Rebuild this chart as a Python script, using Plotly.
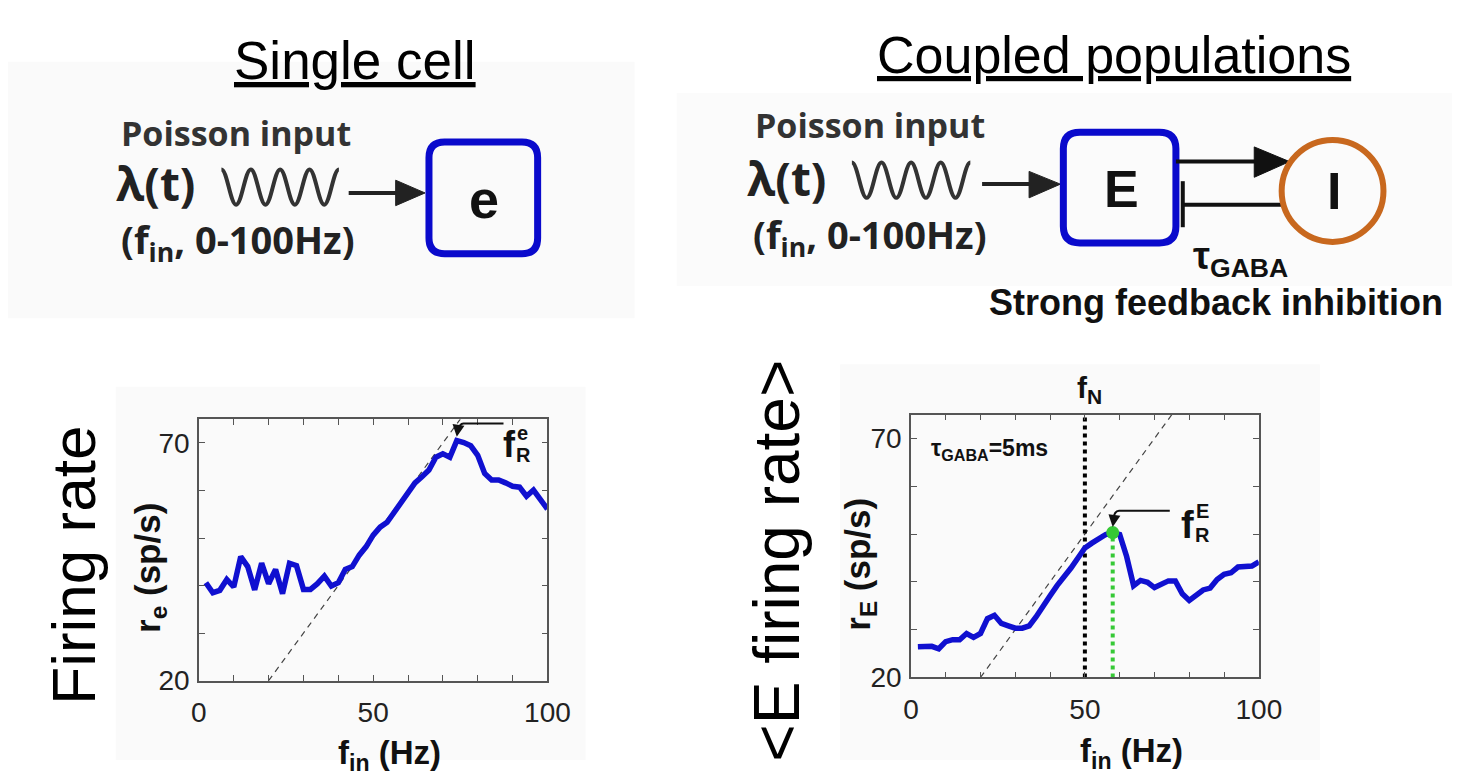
import plotly.graph_objects as go

W, H = 1475, 776

# Single excitatory cell: input frequency (Hz) vs. firing rate (sp/s)
fin_single = [2, 4, 6, 8, 10, 12, 14, 16, 18, 20, 22, 24, 26, 28, 30, 32, 34, 36, 38, 40,
              42, 44, 46, 48, 50, 52, 54, 56, 58, 60, 62, 64, 66, 68, 70, 72, 74, 76, 78, 80,
              82, 84, 86, 88, 90, 92, 94, 96, 98, 100]
rate_single = [40.6, 38.5, 39.0, 41.3, 39.7, 46.1, 44.0, 39.1, 44.7, 40.4,
               43.4, 38.3, 44.7, 44.2, 39.2, 39.2, 40.4, 42.0, 39.9, 40.6,
               43.4, 44.0, 46.4, 48.2, 50.6, 52.3, 53.3, 55.4, 57.8, 59.5,
               61.6, 62.9, 64.3, 67.0, 67.7, 67.0, 70.5, 70.1, 69.4, 67.4,
               63.6, 62.2, 62.2, 61.6, 60.9, 60.7, 58.8, 60.1, 58.1, 56.1]

# Coupled E-I populations: input frequency (Hz) vs. mean E firing rate (sp/s)
fin_coupled = fin_single
rate_coupled = [26.4, 26.4, 26.5, 26.0, 27.5, 27.9, 27.9, 29.2, 28.4, 29.2,
                32.3, 33.0, 31.3, 30.8, 30.3, 30.3, 30.8, 32.7, 34.7, 37.1,
                39.2, 40.9, 42.9, 45.0, 47.1, 48.1, 49.0, 49.9, 50.3, 49.9,
                45.3, 39.2, 40.3, 39.9, 38.8, 39.4, 40.2, 40.2, 37.5, 36.1,
                37.1, 38.3, 38.7, 40.5, 41.6, 41.9, 43.1, 43.1, 43.3, 44.2]

# Identity line (output rate = input frequency)
diag_x = [20, 75]
diag_y = [20, 75]

f_N = 50  # natural frequency of the E-I loop (Hz)

x_tickvals = [0, 10, 20, 30, 40, 50, 60, 70, 80, 90, 100]
x_ticktext = ["0", "", "", "", "", "50", "", "", "", "", "100"]
y_tickvals = [20, 30, 40, 50, 60, 70]
y_ticktext = ["20", "", "", "", "", "70"]

# resonance peak of the coupled network
i_pk = max(range(len(rate_coupled)), key=lambda i: rate_coupled[i])
pk_x, pk_y = fin_coupled[i_pk], rate_coupled[i_pk]

BLUE = "#1010d0"
BOXBLUE = "#0a0acc"
ORANGE = "#c8681e"
GREEN = "#36c936"
ARIAL = "Liberation Sans, Arial, sans-serif"
DIAG = "Open Sans, Liberation Sans, sans-serif"


def px(x):
    return x / W


def py(y):
    return 1 - y / H


def pt(x, y):
    return f"{px(x):.5f},{py(y):.5f}"


fig = go.Figure()

# ---- curves ----
for xa, ya in (("x", "y"), ("x2", "y2")):
    fig.add_trace(go.Scatter(x=diag_x, y=diag_y, mode="lines", xaxis=xa, yaxis=ya,
                             line=dict(color="#444", width=1.2, dash="6px,5px"),
                             hoverinfo="skip"))

fig.add_trace(go.Scatter(x=[f_N, f_N], y=[20, 75], mode="lines", xaxis="x2", yaxis="y2",
                         line=dict(color="black", width=4, dash="dot"), hoverinfo="skip"))
fig.add_trace(go.Scatter(x=[pk_x, pk_x], y=[20, pk_y], mode="lines", xaxis="x2", yaxis="y2",
                         line=dict(color=GREEN, width=4, dash="dot"), hoverinfo="skip"))

fig.add_trace(go.Scatter(x=fin_single, y=rate_single, mode="lines", xaxis="x", yaxis="y",
                         line=dict(color=BLUE, width=5.5)))
fig.add_trace(go.Scatter(x=fin_coupled, y=rate_coupled, mode="lines", xaxis="x2", yaxis="y2",
                         line=dict(color=BLUE, width=5.5)))
fig.add_trace(go.Scatter(x=[pk_x], y=[pk_y], mode="markers", xaxis="x2", yaxis="y2",
                         marker=dict(color=GREEN, size=13)))

shapes = []
annotations = []


def txt(text, x, y, size, family=ARIAL, color="#111", angle=0,
        xanchor="center", yanchor="middle", xref="paper", yref="paper"):
    if xref == "paper":
        x = px(x)
    if yref == "paper":
        y = py(y)
    annotations.append(dict(text=text, x=x, y=y, xref=xref, yref=yref, showarrow=False,
                            textangle=angle, xanchor=xanchor, yanchor=yanchor,
                            font=dict(size=size, family=family, color=color)))


def rect_px(x0, y0, x1, y1, fill):
    shapes.append(dict(type="rect", xref="paper", yref="paper", x0=px(x0), x1=px(x1),
                       y0=py(y1), y1=py(y0), fillcolor=fill, line=dict(width=0),
                       layer="below"))


def line_px(x0, y0, x1, y1, width=4, color="#222"):
    shapes.append(dict(type="line", xref="paper", yref="paper", x0=px(x0), y0=py(y0),
                       x1=px(x1), y1=py(y1), line=dict(color=color, width=width)))


def tri_px(tip, b1, b2, color="#222"):
    shapes.append(dict(type="path", xref="paper", yref="paper",
                       path=f"M{pt(*tip)} L{pt(*b1)} L{pt(*b2)} Z",
                       fillcolor=color, line=dict(color=color, width=1)))


def rounded_box(x0, y0, x1, y1, r, color, width):
    p = (f"M{pt(x0 + r, y0)} L{pt(x1 - r, y0)} Q{pt(x1, y0)} {pt(x1, y0 + r)} "
         f"L{pt(x1, y1 - r)} Q{pt(x1, y1)} {pt(x1 - r, y1)} L{pt(x0 + r, y1)} "
         f"Q{pt(x0, y1)} {pt(x0, y1 - r)} L{pt(x0, y0 + r)} Q{pt(x0, y0)} {pt(x0 + r, y0)} Z")
    shapes.append(dict(type="path", xref="paper", yref="paper", path=p,
                       line=dict(color=color, width=width)))


def wave_px(x0, x1, yc, amp, periods, color="#333", width=4):
    h = (x1 - x0) / (2 * periods)
    k = 0.38 * h
    y_top, y_bot = yc - amp, yc + amp
    p = f"M{pt(x0, y_top)}"
    for i in range(2 * periods):
        xa, xb = x0 + i * h, x0 + (i + 1) * h
        ya, yb = (y_top, y_bot) if i % 2 == 0 else (y_bot, y_top)
        p += f" C{pt(xa + k, ya)} {pt(xb - k, yb)} {pt(xb, yb)}"
    shapes.append(dict(type="path", xref="paper", yref="paper", path=p,
                       line=dict(color=color, width=width)))


# ---- faint panel backgrounds ----
rect_px(0, 63, 640, 325, "#fafafa")
rect_px(683, 95, 1475, 292, "#fbfbfb")
rect_px(110, 395, 590, 776, "#fafafa")
rect_px(850, 372, 1340, 776, "#fafafa")

# ---- titles ----
txt("<u>Single cell</u>", 354, 62, 53, color="black")
txt("<u>Coupled populations</u>", 1130, 56, 52, color="black")

# ---- single-cell diagram ----
txt("<b>Poisson input</b>", 233, 136, 34, family=DIAG, color="#333")
txt("<b>λ(t)</b>", 151, 187, 46, family=DIAG, color="#222")
txt("<b>(f<sub>in</sub>, 0-100Hz)</b>", 235, 247, 38, family=DIAG, color="#222")
wave_px(218, 338, 191, 18, 4)
line_px(348, 197, 400, 197)
tri_px((426, 197), (396, 184), (396, 210))
rounded_box(430, 145, 541, 259, 16, BOXBLUE, 7)
txt("<b>e</b>", 486, 203, 54, color="#111")

# ---- coupled-populations diagram ----
txt("<b>Poisson input</b>", 880, 128, 34, family=DIAG, color="#333")
txt("<b>λ(t)</b>", 795, 182, 46, family=DIAG, color="#222")
txt("<b>(f<sub>in</sub>, 0-100Hz)</b>", 880, 241, 38, family=DIAG, color="#222")
wave_px(862, 983, 184, 18, 4)
line_px(995, 188, 1047, 188)
tri_px((1075, 188), (1043, 175), (1043, 202))
rounded_box(1078, 135, 1193, 248, 17, BOXBLUE, 7)
txt("<b>E</b>", 1137, 193, 52, color="#111")
# excitatory projection E -> I
line_px(1193, 165, 1276, 165, width=4, color="#111")
tri_px((1309, 165), (1273, 150), (1273, 181), color="#111")
# inhibitory feedback I -| E
line_px(1200, 209, 1303, 209, width=4, color="#111")
line_px(1200, 185, 1200, 232, width=4, color="#111")
shapes.append(dict(type="circle", xref="paper", yref="paper", x0=px(1301), x1=px(1405),
                   y0=py(247), y1=py(143), line=dict(color=ORANGE, width=6)))
txt("<b>I</b>", 1354, 195, 52, color="#111")
txt("<b>τ<sub>GABA</sub></b>", 1208, 264, 38, color="#111", xanchor="left")
txt("<b>Strong feedback inhibition</b>", 1234, 309, 36, color="#111")

# ---- big side labels ----
txt("Firing rate", 66, 577, 62, color="black", angle=-90)
txt("&lt;E firing rate&gt;", 786, 572, 64, color="black", angle=-90)

# ---- axis titles ----
txt("<b>r<sub>e</sub> (sp/s)</b>", 145, 580, 35, angle=-90)
txt("<b>r<sub>E</sub> (sp/s)</b>", 870, 576, 35, angle=-90)
txt("<b>f<sub>in</sub> (Hz)</b>", 390, 771, 33)
txt("<b>f<sub>in</sub> (Hz)</b>", 1148, 769, 33)

# ---- in-plot labels, left ----
shapes.append(dict(type="path", xref="x", yref="y",
                   path="M 87.4,74.1 L 75.9,74.1 Q 74.7,74.1 74.3,72.4",
                   line=dict(color="#111", width=2)))
annotations.append(dict(x=74.0, y=71.3, xref="x", yref="y", text="", showarrow=True,
                        ax=1, ay=-7, arrowhead=2, arrowsize=1.2, arrowwidth=2,
                        arrowcolor="#111", standoff=0))
txt("<b>f</b>", 89.0, 69.6, 36, xref="x", yref="y")
txt("<b>e</b>", 92.9, 72.0, 20, xref="x", yref="y")
txt("<b>R</b>", 93.1, 67.4, 20, xref="x", yref="y")

# ---- in-plot labels, right ----
txt("<b>f<sub>N</sub></b>", f_N + 1.4, 398, 30, xref="x2", yref="paper")
txt("<b>τ<sub>GABA</sub>=5ms</b>", 5.2, 67.6, 23, xref="x2", yref="y2", xanchor="left")
shapes.append(dict(type="path", xref="x2", yref="y2",
                   path="M 74.4,54.9 L 59.8,54.9 Q 58.4,54.9 58.1,52.9",
                   line=dict(color="#111", width=2)))
annotations.append(dict(x=pk_x, y=pk_y + 1.2, xref="x2", yref="y2", text="", showarrow=True,
                        ax=1, ay=-7, arrowhead=2, arrowsize=1.2, arrowwidth=2,
                        arrowcolor="#111", standoff=0))
txt("<b>f</b>", 79.5, 51.8, 38, xref="x2", yref="y2")
txt("<b>E</b>", 83.9, 54.8, 20, xref="x2", yref="y2")
txt("<b>R</b>", 83.9, 49.9, 20, xref="x2", yref="y2")

axis_common = dict(showgrid=False, zeroline=False, showline=True, linecolor="#555",
                   linewidth=1.5, mirror="ticks", ticks="inside", ticklen=6, tickwidth=1.2,
                   tickcolor="#555", tickfont=dict(size=28, family=ARIAL, color="#222"))

fig.update_layout(
    width=W, height=H, margin=dict(l=0, r=0, t=0, b=0),
    paper_bgcolor="white", plot_bgcolor="rgba(0,0,0,0)", showlegend=False,
    xaxis=dict(domain=[px(195), px(551)], range=[0, 100], tickvals=x_tickvals,
               ticktext=x_ticktext, anchor="y", ticklabelstandoff=6, **axis_common),
    yaxis=dict(domain=[py(695), py(428)], range=[20, 75], tickvals=y_tickvals,
               ticktext=y_ticktext, anchor="x", ticklabelstandoff=2, **axis_common),
    xaxis2=dict(domain=[px(922.3), px(1277.7)], range=[0, 100], tickvals=x_tickvals,
                ticktext=x_ticktext, anchor="y2", ticklabelstandoff=6, **axis_common),
    yaxis2=dict(domain=[py(691.7), py(423.3)], range=[20, 75], tickvals=y_tickvals,
                ticktext=y_ticktext, anchor="x2", ticklabelstandoff=2, **axis_common),
    shapes=shapes,
    annotations=annotations,
)

fig.write_html("out.html")
